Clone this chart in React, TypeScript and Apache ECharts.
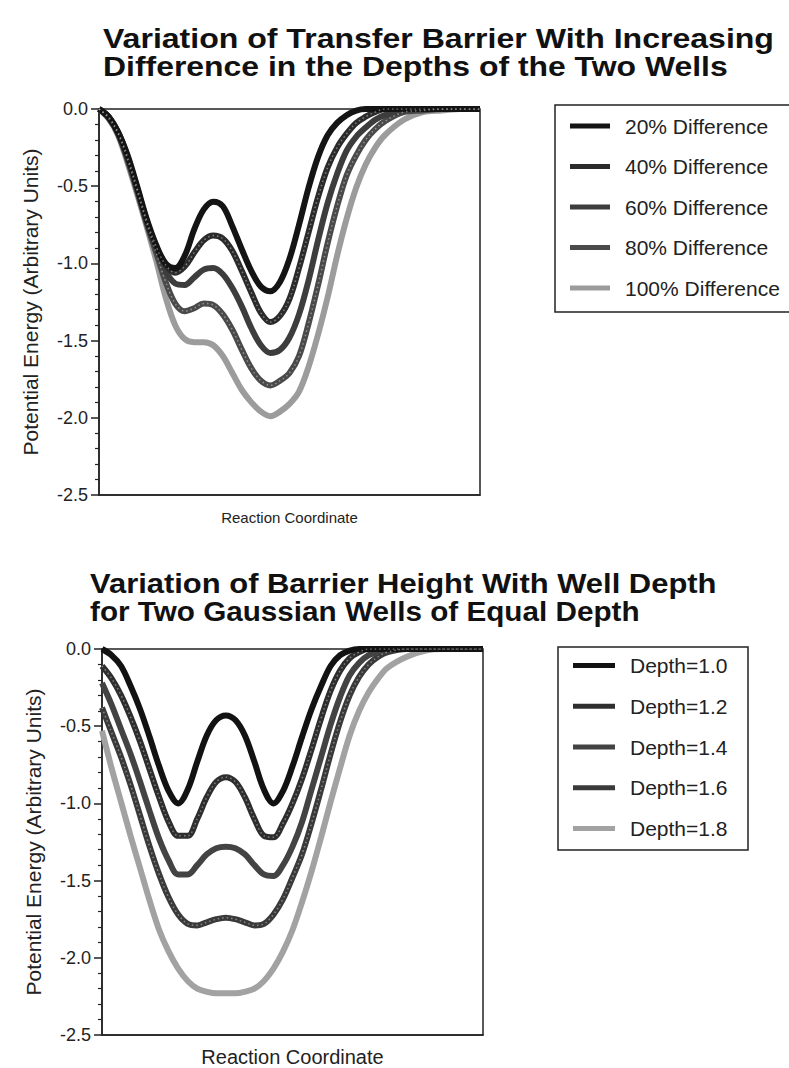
import React, { useEffect, useRef } from "react";
import * as echarts from "echarts";

// Reaction coordinate (arbitrary units, 0..100 across the plot)
const X = [0, 2.5, 5, 7.5, 10, 12.5, 15, 17.5, 20, 22.5, 25, 27.5, 30, 32.5, 35, 37.5, 40, 42.5, 45, 47.5, 50, 52.5, 55, 57.5, 60, 62.5, 65, 67.5, 70, 72.5, 75, 80, 85, 90, 95, 100];

// Top chart: difference in depths of the two wells
const TOP_NAMES = ["20% Difference", "40% Difference", "60% Difference", "80% Difference", "100% Difference"];
const diff20 = [0, -0.05, -0.15, -0.30, -0.50, -0.71, -0.88, -1.00, -1.03, -0.95, -0.78, -0.65, -0.60, -0.63, -0.76, -0.91, -1.05, -1.15, -1.18, -1.12, -0.97, -0.75, -0.51, -0.31, -0.17, -0.09, -0.04, -0.01, 0, 0, 0, 0, 0, 0, 0, 0];
const diff40 = [0, -0.05, -0.15, -0.31, -0.51, -0.72, -0.89, -1.01, -1.06, -1.02, -0.93, -0.85, -0.82, -0.84, -0.92, -1.05, -1.19, -1.32, -1.38, -1.34, -1.23, -1.03, -0.80, -0.57, -0.38, -0.25, -0.16, -0.09, -0.05, -0.02, 0, 0, 0, 0, 0, 0];
const diff60 = [0, -0.05, -0.16, -0.32, -0.52, -0.73, -0.90, -1.05, -1.13, -1.14, -1.09, -1.04, -1.03, -1.07, -1.16, -1.28, -1.42, -1.53, -1.58, -1.56, -1.48, -1.33, -1.11, -0.85, -0.61, -0.42, -0.27, -0.18, -0.12, -0.07, -0.04, -0.01, 0, 0, 0, 0];
const diff80 = [0, -0.06, -0.16, -0.33, -0.53, -0.74, -0.93, -1.12, -1.26, -1.31, -1.29, -1.26, -1.27, -1.33, -1.43, -1.56, -1.68, -1.76, -1.79, -1.76, -1.71, -1.60, -1.39, -1.14, -0.87, -0.63, -0.43, -0.30, -0.20, -0.13, -0.08, -0.02, -0.01, 0, 0, 0];
const diff100 = [0, -0.06, -0.17, -0.35, -0.55, -0.76, -0.98, -1.22, -1.40, -1.49, -1.51, -1.51, -1.53, -1.60, -1.71, -1.82, -1.90, -1.96, -1.99, -1.96, -1.91, -1.83, -1.67, -1.46, -1.22, -0.95, -0.71, -0.51, -0.36, -0.25, -0.17, -0.07, -0.02, -0.01, 0, 0];

// Bottom chart: two equal gaussian wells of increasing depth
const BOTTOM_NAMES = ["Depth=1.0", "Depth=1.2", "Depth=1.4", "Depth=1.6", "Depth=1.8"];
const depth10 = [0, -0.04, -0.11, -0.24, -0.39, -0.57, -0.76, -0.92, -1.00, -0.91, -0.73, -0.56, -0.46, -0.43, -0.46, -0.56, -0.73, -0.91, -1.00, -0.92, -0.76, -0.57, -0.39, -0.24, -0.11, -0.04, -0.01, 0, 0, 0, 0, 0, 0, 0, 0, 0];
const depth12 = [-0.11, -0.19, -0.30, -0.44, -0.60, -0.78, -0.96, -1.12, -1.21, -1.21, -1.10, -0.96, -0.86, -0.83, -0.86, -0.96, -1.10, -1.21, -1.22, -1.13, -1.00, -0.84, -0.65, -0.45, -0.27, -0.14, -0.06, -0.02, 0, 0, 0, 0, 0, 0, 0, 0];
const depth14 = [-0.22, -0.36, -0.52, -0.68, -0.86, -1.05, -1.23, -1.37, -1.46, -1.46, -1.40, -1.33, -1.29, -1.28, -1.29, -1.33, -1.40, -1.46, -1.47, -1.40, -1.28, -1.12, -0.91, -0.70, -0.49, -0.31, -0.17, -0.09, -0.04, -0.02, 0, 0, 0, 0, 0, 0];
const depth16 = [-0.38, -0.54, -0.70, -0.88, -1.08, -1.28, -1.46, -1.61, -1.72, -1.78, -1.79, -1.77, -1.75, -1.74, -1.75, -1.77, -1.79, -1.78, -1.72, -1.62, -1.48, -1.33, -1.13, -0.91, -0.68, -0.47, -0.30, -0.18, -0.10, -0.05, -0.02, 0, 0, 0, 0, 0];
const depth18 = [-0.53, -0.77, -0.99, -1.21, -1.42, -1.63, -1.82, -1.96, -2.07, -2.15, -2.20, -2.22, -2.23, -2.23, -2.23, -2.22, -2.20, -2.15, -2.07, -1.96, -1.82, -1.64, -1.44, -1.22, -0.99, -0.77, -0.56, -0.40, -0.28, -0.19, -0.12, -0.05, -0.01, 0, 0, 0];

const Y_TICKS = [0, -0.5, -1.0, -1.5, -2.0, -2.5];

const TOP_TITLE = ["Variation of Transfer Barrier With Increasing", "Difference in the Depths of the Two Wells"];
const BOTTOM_TITLE = ["Variation of Barrier Height With Well Depth", "for Two Gaussian Wells of Equal Depth"];

const TOP_VALUES = [diff20, diff40, diff60, diff80, diff100];
const BOTTOM_VALUES = [depth10, depth12, depth14, depth16, depth18];
const TOP_COLORS = ["#141414", "#2b2b2b", "#3d3d3d", "#4a4a4a", "#9c9c9c"];
const BOTTOM_COLORS = ["#121212", "#2e2e2e", "#434343", "#3a3a3a", "#a2a2a2"];
const TEXTURED_TOP = [false, true, false, true, false];
const TEXTURED_BOTTOM = [false, true, false, true, false];

const FONT = '"Liberation Sans", Arial, Helvetica, sans-serif';

function pairs(vals: number[]) {
  return X.map((x, i) => [x, vals[i]]);
}

function buildSeries(names: string[], values: number[][], colors: string[], textured: boolean[], axisIndex: number) {
  const out: any[] = [];
  for (let i = names.length - 1; i >= 0; i--) {
    out.push({
      name: names[i],
      type: "line",
      xAxisIndex: axisIndex,
      yAxisIndex: axisIndex,
      data: pairs(values[i]),
      smooth: 0.35,
      showSymbol: false,
      symbol: "none",
      color: colors[i],
      lineStyle: { color: colors[i], width: 6 },
      z: 2,
    });
    if (textured[i]) {
      out.push({
        name: names[i] + " texture",
        type: "line",
        xAxisIndex: axisIndex,
        yAxisIndex: axisIndex,
        data: pairs(values[i]),
        smooth: 0.35,
        showSymbol: false,
        symbol: "none",
        silent: true,
        lineStyle: { color: "rgba(255,255,255,0.4)", width: 1.5, type: [1.5, 3] },
        z: 3,
      });
    }
  }
  return out;
}

function titleLine(text: string, x: number, y: number, scaleX: number) {
  return {
    type: "text",
    x,
    y,
    scaleX,
    silent: true,
    style: {
      text,
      font: `bold 28px ${FONT}`,
      fill: "#111",
      verticalAlign: "middle",
      align: "left",
    },
  };
}

export default function App() {
  const ref = useRef<HTMLDivElement>(null);
  useEffect(() => {
    document.body.style.margin = "0";
    const chart = echarts.init(ref.current!, null, { renderer: "svg" });
    const yAxisBase = (gridIndex: number) => ({
      gridIndex,
      type: "value",
      min: -2.5,
      max: 0,
      interval: 0.5,
      name: "Potential Energy (Arbitrary Units)",
      nameLocation: "middle",
      nameGap: 58,
      nameTextStyle: { fontFamily: FONT, fontSize: 21, color: "#222" },
      axisLine: { show: true, lineStyle: { color: "#222", width: 1.5 } },
      axisTick: { show: true, length: 8, lineStyle: { color: "#222", width: 1.5 } },
      minorTick: { show: true, splitNumber: 5, length: 4, lineStyle: { color: "#222", width: 1.2 } },
      splitLine: { show: false },
      minorSplitLine: { show: false },
      axisLabel: {
        fontFamily: FONT,
        fontSize: 18,
        color: "#222",
        margin: 11,
        formatter: (v: number) => (Y_TICKS.includes(v) ? v.toFixed(1) : ""),
      },
    });
    const xAxisBase = (gridIndex: number, fontSize: number, gap: number) => ({
      gridIndex,
      type: "value",
      min: 0,
      max: 100,
      name: "Reaction Coordinate",
      nameLocation: "middle",
      nameGap: gap,
      nameTextStyle: { fontFamily: FONT, fontSize, color: "#222" },
      axisLine: { show: true, onZero: false, lineStyle: { color: "#222", width: 1.5 } },
      axisTick: { show: false },
      axisLabel: { show: false },
      splitLine: { show: false },
    });
    const legendBase = (names: string[], left: number, top: number, gap: number, w: number) => ({
      data: names,
      orient: "vertical",
      left,
      top,
      padding: 0,
      itemWidth: w,
      itemHeight: 5,
      itemGap: gap,
      icon: "rect",
      selectedMode: false,
      textStyle: { fontFamily: FONT, fontSize: 21, color: "#222", padding: [0, 0, 0, 10], lineHeight: 21 },
    });
    const option: any = {
      animation: false,
      backgroundColor: "#fff",
      grid: [
        { left: 99, top: 109, width: 381, height: 386, show: true, borderColor: "#222", borderWidth: 1.5, backgroundColor: "transparent" },
        { left: 102, top: 649, width: 381, height: 386, show: true, borderColor: "#222", borderWidth: 1.5, backgroundColor: "transparent" },
      ],
      xAxis: [xAxisBase(0, 15, 15), xAxisBase(1, 20, 12)],
      yAxis: [yAxisBase(0), yAxisBase(1)],
      legend: [
        legendBase(TOP_NAMES, 570, 115.5, 19.5, 40),
        legendBase(BOTTOM_NAMES, 573, 655, 19.75, 42),
      ],
      graphic: [
        titleLine(TOP_TITLE[0], 103, 38, 1.145),
        titleLine(TOP_TITLE[1], 103, 66, 1.14),
        titleLine(BOTTOM_TITLE[0], 90, 583, 1.105),
        titleLine(BOTTOM_TITLE[1], 90, 611, 1.06),
        { type: "rect", shape: { x: 555, y: 105, width: 245, height: 207 }, style: { fill: "none", stroke: "#222", lineWidth: 1.5 }, silent: true },
        { type: "rect", shape: { x: 558, y: 647, width: 190, height: 203 }, style: { fill: "none", stroke: "#222", lineWidth: 1.5 }, silent: true },
      ],
      series: [
        ...buildSeries(TOP_NAMES, TOP_VALUES, TOP_COLORS, TEXTURED_TOP, 0),
        ...buildSeries(BOTTOM_NAMES, BOTTOM_VALUES, BOTTOM_COLORS, TEXTURED_BOTTOM, 1),
      ],
    };
    chart.setOption(option);
    return () => chart.dispose();
  }, []);
  return <div ref={ref} style={{ width: 789, height: 1068 }} />;
}
